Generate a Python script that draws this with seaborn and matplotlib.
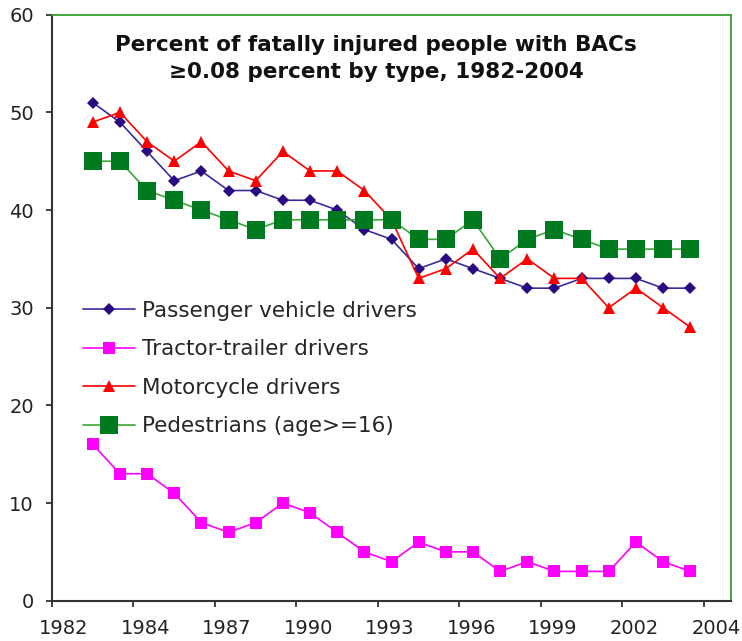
import matplotlib
matplotlib.use("Agg")
import matplotlib.pyplot as plt
import matplotlib.transforms as mtransforms
import pandas as pd
import seaborn as sns

# ── data ─────────────────────────────────────────────
years = list(range(1982, 2005))
passenger = [51, 49, 46, 43, 44, 42, 42, 41, 41, 40, 38, 37, 34, 35, 34, 33,
             32, 32, 33, 33, 33, 32, 32]
tractor = [16, 13, 13, 11, 8, 7, 8, 10, 9, 7, 5, 4, 6, 5, 5, 3,
           4, 3, 3, 3, 6, 4, 3]
motorcycle = [49, 50, 47, 45, 47, 44, 43, 46, 44, 44, 42, 39, 33, 34, 36, 33,
              35, 33, 33, 30, 32, 30, 28]
pedestrians = [45, 45, 42, 41, 40, 39, 38, 39, 39, 39, 39, 39, 37, 37, 39, 35,
               37, 38, 37, 36, 36, 36, 36]

tick_labels = ["1982", "1984", "1987", "1990", "1993", "1996", "1999", "2002", "2004"]

df = pd.DataFrame({
    "year": years,
    "Passenger vehicle drivers": passenger,
    "Tractor-trailer drivers": tractor,
    "Motorcycle drivers": motorcycle,
    "Pedestrians (age>=16)": pedestrians,
})

# ── style ────────────────────────────────────────────
sns.set_theme(style="white")
plt.rcParams["font.family"] = ["DejaVu Sans"]

fig = plt.figure(figsize=(7.42, 6.41), dpi=100)
ax = fig.add_axes([52 / 742, 40.3 / 641, 679 / 742, 586 / 641])

series = [
    ("Passenger vehicle drivers", "#3a2c9c", "#2a0a80", "D", 6),
    ("Tractor-trailer drivers", "#ff00ff", "#ff00ff", "s", 8.5),
    ("Motorcycle drivers", "#ff0000", "#ff0000", "^", 9),
    ("Pedestrians (age>=16)", "#3aa63a", "#007a1f", "s", 12.5),
]
for name, lc, mc, mk, ms in series:
    sns.lineplot(data=df, x="year", y=name, ax=ax, color=lc, marker=mk,
                 markersize=ms, markerfacecolor=mc, markeredgecolor=mc,
                 markeredgewidth=0, linewidth=1.2, label=name)

ax.set_xlim(1980.5, 2005.5)
ax.set_ylim(0, 60)
ax.set_yticks(range(0, 61, 10))
ax.set_xticks([1980.5 + 3 * k for k in range(len(tick_labels))])
ax.set_xticklabels(tick_labels)
ax.set_xlabel("")
ax.set_ylabel("")

ax.tick_params(axis="both", labelsize=14, colors="#222222", width=1.2)
ax.tick_params(axis="x", direction="out", length=4.5, pad=9, bottom=True)
ax.tick_params(axis="y", direction="out", length=4, pad=9, left=True)

# labels sit slightly to the right of their tick marks
offset = mtransforms.ScaledTranslation(12 / 100, 0, fig.dpi_scale_trans)
for lbl in ax.get_xticklabels():
    lbl.set_transform(lbl.get_transform() + offset)

for side in ["left", "bottom"]:
    ax.spines[side].set_color("#333333")
    ax.spines[side].set_linewidth(1.5)
for side in ["top", "right"]:
    ax.spines[side].set_color("#33a033")
    ax.spines[side].set_linewidth(1.3)

ax.text(0.477, 0.948, "Percent of fatally injured people with BACs",
        transform=ax.transAxes, ha="center", va="center",
        fontsize=15.5, fontweight="bold", color="#111111")
ax.text(0.477, 0.902, "≥0.08 percent by type, 1982-2004",
        transform=ax.transAxes, ha="center", va="center",
        fontsize=15.5, fontweight="bold", color="#111111")

ax.legend(loc="upper left", bbox_to_anchor=(0.045, 0.512), frameon=False,
          fontsize=15.5, handlelength=2.45, handletextpad=0.33,
          labelspacing=0.86, borderpad=0, borderaxespad=0)

fig.savefig("out.png", dpi=100, facecolor="white")
